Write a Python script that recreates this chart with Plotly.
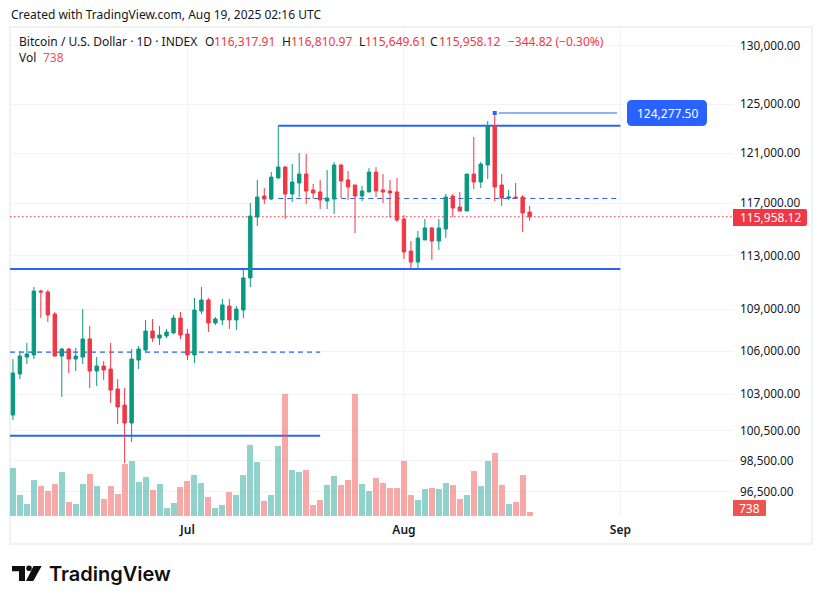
import pandas as pd
import plotly.graph_objects as go

# daily candles Jun 6 - Aug 19 2025
dates = pd.date_range("2025-06-06", periods=75, freq="D")
opens = [101570, 104390, 105580, 105730, 110340, 110270, 108660, 105650, 106150, 105440, 105580, 106860, 104600, 104950, 104740,
         103350, 102250, 101030, 105370, 106080, 107430, 106930, 107080, 107290, 108370, 107220, 105730, 108880, 109680, 108010,
         108230, 109240, 108230, 108950, 111310, 115940, 117570, 117340, 119000, 119870, 117730, 118600, 119310, 118050, 117890,
         117180, 117340, 120030, 118840, 118440, 117570, 117890, 119470, 118050, 117970, 117890, 115780, 113330, 112500, 114170,
         115090, 114090, 115010, 117570, 116710, 116400, 119310, 118680, 120030, 123200, 118440, 117420, 117490, 117490, 116317.91]
highs = [105440, 106010, 106580, 110640, 110420, 110420, 108810, 106220, 106220, 106220, 109020, 107790, 105580, 105300, 106580,
         104040, 103420, 106150, 106360, 108230, 108300, 107790, 107580, 108590, 108810, 107580, 109830, 110640, 109830, 108440,
         109760, 109760, 109240, 111980, 117020, 118840, 118200, 119470, 123200, 119950, 120110, 121000, 120920, 118520, 118840,
         119630, 120270, 120110, 119550, 118440, 118360, 119790, 119870, 119310, 118840, 119000, 116090, 114090, 114860, 115780,
         115160, 115780, 117730, 117730, 117890, 119310, 122300, 120270, 123610, 124360, 119310, 118050, 118600, 117650, 116810.97]
lows = [101230, 104040, 105090, 105440, 108370, 108080, 105650, 102800, 104460, 104600, 105090, 103420, 103560, 103970, 102390,
        100960, 98370, 99760, 104740, 105940, 106650, 106430, 106930, 107220, 106860, 105370, 105160, 108660, 107360, 107870,
        107870, 107580, 107510, 108370, 110640, 115240, 116950, 117260, 118920, 115780, 117100, 117490, 116950, 117340, 116560,
        116560, 116170, 117420, 117260, 114700, 117180, 117890, 117490, 117020, 115860, 115550, 112730, 112050, 111980, 114170,
        112650, 113410, 114320, 115940, 116400, 116400, 118120, 118200, 118920, 117180, 116790, 117260, 117420, 114780, 115649.61]
closes = [104460, 105650, 105800, 110340, 110270, 108590, 105650, 106150, 105440, 105650, 106860, 104600, 104950, 104670, 103280,
          102120, 101030, 105440, 106150, 107430, 106930, 107150, 107360, 108370, 107150, 105730, 108950, 109680, 108010, 108300,
          109320, 108230, 109020, 111310, 116010, 117490, 117340, 119070, 119870, 117730, 118680, 119310, 117970, 117810, 117260,
          117420, 120030, 118760, 118280, 117570, 117970, 119470, 117970, 117890, 117810, 115700, 113260, 112500, 114320, 115090,
          114090, 115090, 117490, 116630, 116400, 119310, 118680, 120110, 123200, 118280, 117420, 117490, 117420, 116250, 115958.12]
volumes = [9600, 4200, 2400, 7200, 6000, 5000, 6400, 8800, 2800, 2400, 6400, 8400, 6000, 3400, 6000, 4400, 10400, 11000, 6800, 7800,
           5200, 6400, 1600, 2600, 5800, 7000, 8200, 6600, 3800, 1600, 2200, 4800, 4200, 8200, 14200, 10800, 3000, 4200, 14000, 24400,
           9200, 8800, 9200, 2200, 3200, 6200, 8000, 6200, 7200, 24400, 6400, 5000, 7600, 6600, 5600, 5600, 11000, 4200, 3200, 5400,
           5600, 5400, 6600, 6200, 3400, 4200, 9000, 6000, 11000, 12600, 6200, 2400, 2800, 8200, 738]

# horizontal drawings: start, end, price
top_line = ["2025-07-14", "2025-09-01", 123230]
mid_line = ["2025-06-05 14:00", "2025-09-01", 111980]
low_line = ["2025-06-05 14:00", "2025-07-20", 100180]
dash_low = ["2025-06-05 14:00", "2025-07-20", 105930]
dash_top = ["2025-07-14", "2025-09-01", 117375]
ath_price = 124277.5
last_price = 115958.12

price_ticks = [96500, 98500, 100500, 103000, 106000, 109000, 113000, 117000, 121000, 125000, 130000]
month_ticks = ["2025-07-01", "2025-08-01", "2025-09-01"]
month_labels = ["Jul", "Aug", "Sep"]

X_START = "2025-06-05 14:00"
X_END = "2025-09-17 03:00"
PRICE_RANGE = [4.97718, 5.11934]

GREEN = "#089981"
RED = "#F23645"
BLUE = "#2962FF"
INK = "#131722"
GRID = "#F2F3F5"
FONT = "Noto Sans"

W, H = 822, 604
# plot rectangle in page pixels
L, R, T, B = 10, 733, 27, 517


def px(x):
    return (x - L) / (R - L)


def py(y):
    return (B - y) / (B - T)


def label(text, x, y, color=INK, size=12, anchor="left", family=FONT, weight=400):
    fig.add_annotation(text=text, x=px(x), y=py(y), xref="paper", yref="paper", showarrow=False,
                       xanchor=anchor, yanchor="middle", borderpad=0,
                       font=dict(family=family, size=size, color=color, weight=weight))


def rounded(x0, y0, x1, y1, r):
    return (f"M{px(x0 + r)},{py(y0)} L{px(x1 - r)},{py(y0)} Q{px(x1)},{py(y0)} {px(x1)},{py(y0 + r)} "
            f"L{px(x1)},{py(y1 - r)} Q{px(x1)},{py(y1)} {px(x1 - r)},{py(y1)} L{px(x0 + r)},{py(y1)} "
            f"Q{px(x0)},{py(y1)} {px(x0)},{py(y1 - r)} L{px(x0)},{py(y0 + r)} Q{px(x0)},{py(y0)} {px(x0 + r)},{py(y0)} Z")


def flat_left(x0, y0, x1, y1, r):
    return (f"M{px(x0)},{py(y0)} L{px(x1 - r)},{py(y0)} Q{px(x1)},{py(y0)} {px(x1)},{py(y0 + r)} "
            f"L{px(x1)},{py(y1 - r)} Q{px(x1)},{py(y1)} {px(x1 - r)},{py(y1)} L{px(x0)},{py(y1)} Z")


def poly(points):
    return "M" + " L".join(f"{px(a)},{py(b)}" for a, b in points) + " Z"


fig = go.Figure()


def hline(spec, color=BLUE, width=2, dash="solid"):
    fig.add_trace(go.Scatter(x=spec[:2], y=[spec[2], spec[2]], mode="lines", yaxis="y",
                             line=dict(color=color, width=width, dash=dash), hoverinfo="skip"))


# drawings sit behind volume and candles
hline(low_line)
hline(mid_line)
hline(top_line)
hline(dash_low, width=1.1, dash="5px,4px")
hline(dash_top, width=1.1, dash="5px,4px")
hline([X_START, X_END, last_price], color=RED, width=1, dash="1.5px,2.5px")
hline(["2025-08-14 14:00", "2025-08-31 12:00", ath_price], color="#8FB0FD", width=2)

vol_colors = ["rgba(38,166,154,0.5)" if c >= o else "rgba(239,83,80,0.5)" for o, c in zip(opens, closes)]
fig.add_trace(go.Bar(x=dates, y=volumes, yaxis="y2", marker=dict(color=vol_colors, line_width=0),
                     width=6 / 6.984 * 86400000, hoverinfo="skip"))

fig.add_trace(go.Candlestick(x=dates, open=opens, high=highs, low=lows, close=closes, yaxis="y3",
                             whiskerwidth=0,
                             increasing=dict(line=dict(color=GREEN, width=1), fillcolor=GREEN),
                             decreasing=dict(line=dict(color=RED, width=1), fillcolor=RED)))

fig.add_trace(go.Scatter(x=["2025-08-14"], y=[ath_price], mode="markers", yaxis="y3",
                         marker=dict(symbol="square", size=4, color=BLUE), hoverinfo="skip"))

fig.update_layout(
    width=W, height=H,
    margin=dict(l=L, r=W - R, t=T, b=H - B, autoexpand=False),
    paper_bgcolor="white", plot_bgcolor="white", showlegend=False, bargap=0,
    font=dict(family=FONT, size=12, color=INK),
    xaxis=dict(type="date", range=[X_START, X_END], rangeslider_visible=False, tickvals=month_ticks,
               ticktext=month_labels, showgrid=True, gridcolor=GRID, gridwidth=1, zeroline=False,
               showline=False, ticks="", ticklabelstandoff=4,
               tickfont=dict(family=FONT, size=12, color=INK, weight=600)),
    yaxis=dict(type="log", range=PRICE_RANGE, side="right", tickvals=price_ticks,
               ticktext=[f"{v:,.2f}" for v in price_ticks], showgrid=True, gridcolor=GRID, gridwidth=1,
               zeroline=False, showline=False, ticks="", ticklabelstandoff=6,
               tickfont=dict(family=FONT, size=11.8, color=INK)),
    yaxis2=dict(overlaying="y", range=[-200, 97800], visible=False),
    yaxis3=dict(overlaying="y", type="log", range=PRICE_RANGE, visible=False),
)

fig.update_layout(shapes=[
    dict(type="rect", xref="paper", yref="paper", x0=px(10), x1=px(812), y0=py(27), y1=py(544),
         line=dict(color="#F0F1F3", width=2), layer="below"),
    dict(type="path", xref="paper", yref="paper", path=rounded(627, 100, 707, 126, 5), fillcolor=BLUE, line_width=0),
    dict(type="path", xref="paper", yref="paper", path=flat_left(733, 209, 807, 226, 2), fillcolor=RED, line_width=0),
    dict(type="path", xref="paper", yref="paper", path=flat_left(733, 500, 766, 516, 1), fillcolor="#EF5350", line_width=0),
    # TradingView logo
    dict(type="path", xref="paper", yref="paper", fillcolor="#0F0F0F", line_width=0,
         path=poly([(12, 566), (25, 566), (25, 581), (19, 581), (19, 571.3), (12, 571.3)])),
    dict(type="circle", xref="paper", yref="paper", fillcolor="#0F0F0F", line_width=0,
         x0=px(26.2), x1=px(31.8), y0=py(565.5), y1=py(571.1)),
    dict(type="path", xref="paper", yref="paper", fillcolor="#0F0F0F", line_width=0,
         path=poly([(33.5, 566), (41.7, 566), (33.3, 581), (26, 581)])),
])

label("Created with TradingView.com, Aug 19, 2025 02:16 UTC", 10, 15)
label("Bitcoin / U.S. Dollar · 1D · INDEX", 18, 41)
label("O", 204, 41)
label("116,317.91", 213, 41, RED)
label("H", 281, 41)
label("116,810.97", 290, 41, RED)
label("L", 358, 41)
label("115,649.61", 364, 41, RED)
label("C", 429, 41)
label("115,958.12", 438, 41, RED)
label("−344.82 (−0.30%)", 507, 41, RED)
label("Vol", 18, 58)
label("738", 42, 58, "#EF5350")
label("124,277.50", 667, 113, "white", anchor="center")
label("115,958.12", 770, 217.5, "white", anchor="center")
label("738", 749.5, 508.5, "white", anchor="center")
label("TradingView", 48, 574, "#0F0F0F", size=20, family="Inter", weight=600)

# drop the default body margin so the figure fills the window
fig.write_html("out.html", config={"displayModeBar": False}, post_script="document.body.style.margin = '0';")
